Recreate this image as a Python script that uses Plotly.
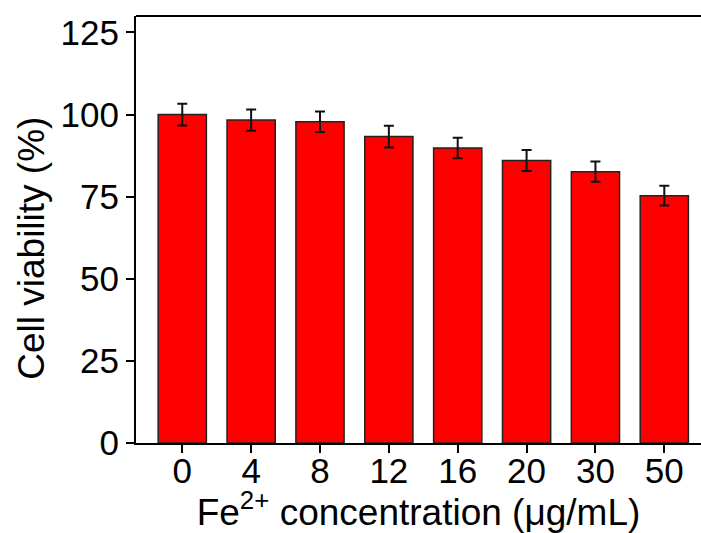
import plotly.graph_objects as go

# Fe2+ concentration groups (ug/mL) and measured cell viability (%)
concentrations = ["0", "4", "8", "12", "16", "20", "30", "50"]
viability = [100.0, 98.3, 97.8, 93.3, 89.8, 86.0, 82.6, 75.3]
viability_err = [3.3, 3.2, 3.1, 3.3, 3.1, 3.2, 3.1, 3.0]
y_ticks = [0, 25, 50, 75, 100, 125]

FONT = "Arial, 'Liberation Sans', sans-serif"

fig = go.Figure()
fig.add_trace(go.Bar(
    x=concentrations,
    y=viability,
    width=0.7,
    marker=dict(color="#FF0000", line=dict(color="#222222", width=1.5)),
    error_y=dict(type="data", array=viability_err, visible=True,
                 color="#111111", thickness=2, width=5),
))

fig.update_layout(
    width=701, height=533,
    margin=dict(l=136, r=0, t=16, b=90),
    paper_bgcolor="white", plot_bgcolor="white",
    showlegend=False,
    font=dict(family=FONT, color="black"),
    xaxis=dict(
        type="category",
        range=[-0.672, 7.533],
        showline=True, linecolor="black", linewidth=2,
        ticks="outside", ticklen=8, tickwidth=2, tickcolor="black",
        tickfont=dict(size=35, family=FONT),
        ticklabelstandoff=-12,
        showgrid=False, zeroline=False,
        title=dict(text="Fe<sup>2+</sup> concentration (μg/mL)",
                   font=dict(size=37, family=FONT), standoff=4),
    ),
    yaxis=dict(
        range=[0, 130],
        tickvals=y_ticks,
        showline=True, linecolor="black", linewidth=2,
        ticks="outside", ticklen=8, tickwidth=2, tickcolor="black",
        tickfont=dict(size=35, family=FONT),
        showgrid=False, zeroline=False,
    ),
)

# y-axis title, placed slightly below the vertical middle of the axis
fig.add_annotation(
    text="Cell viability (%)", textangle=-90,
    xref="paper", yref="paper", x=-0.184, y=0.455,
    xanchor="center", yanchor="middle", showarrow=False,
    font=dict(size=37, family=FONT, color="black"),
)

# top frame line of the plotting area
fig.add_shape(type="line", xref="paper", yref="paper",
              x0=0, x1=1, y0=1, y1=1,
              line=dict(color="black", width=2))

fig.write_html("out.html")
